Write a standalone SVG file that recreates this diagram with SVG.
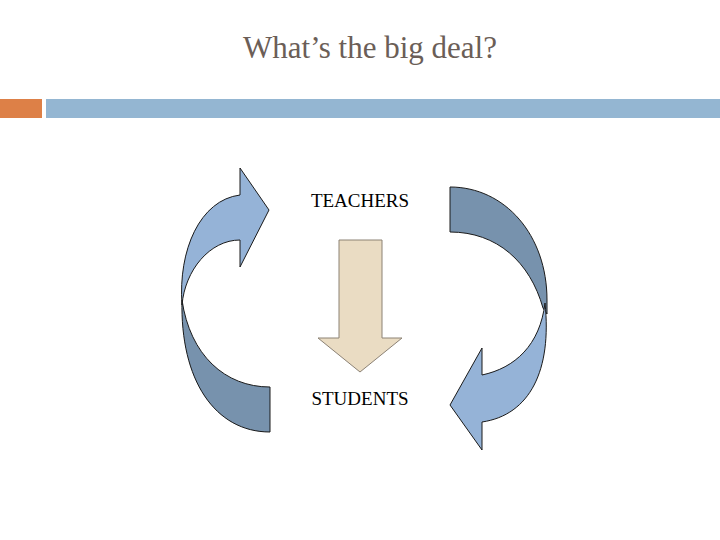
<svg xmlns="http://www.w3.org/2000/svg" width="720" height="540" viewBox="0 0 720 540">
<style>
.t{font-family:"Liberation Serif",serif;}
.arc{stroke:#1a1a1a;stroke-width:1;stroke-linejoin:miter}
.light{fill:#95b3d7}
.dark{fill:#7792ad}
</style>
<rect width="720" height="540" fill="#ffffff"/>
<text class="t" x="370" y="58" font-size="31" fill="#6b5e57" text-anchor="middle">What’s the big deal?</text>
<rect x="0" y="99" width="42" height="19" fill="#dd8047"/>
<rect x="46" y="99" width="674" height="19" fill="#94b6d2"/>
<g id="cycle-left">
<path class="arc dark" d="M182,300 C180,380 215,432 270,432 L270,387 C225,387 190,355 182,300 Z"/>
<path class="arc light" d="M182,305 C178,250 200,200 240,195 L240,168 L269,210 L240,267 L240,240 C210,240 185,270 182,305 Z"/>
</g>
<g id="cycle-right">
<path class="arc dark" d="M450,187 C505,187 547,235 547,300 L547,314 L543,308 C530,262 497,232 450,232 Z"/>
<path class="arc light" d="M545,303 C552,370 530,415 482,422 L482,450 L450,405 L482,348 L482,375 C515,368 540,345 545,303 Z"/>
</g>
<g id="teachers">
<text class="t" x="360" y="207" font-size="19" fill="#000" text-anchor="middle">TEACHERS</text>
</g>
<g id="students">
<text class="t" x="360" y="405" font-size="19" fill="#000" text-anchor="middle">STUDENTS</text>
</g>
<g id="connectors">
<path d="M339,240 L382,240 L382,338 L402,338 L360,372 L318,338 L339,338 Z" fill="#eadcc3" stroke="#8c8275" stroke-width="1"/>
</g>
</svg>
